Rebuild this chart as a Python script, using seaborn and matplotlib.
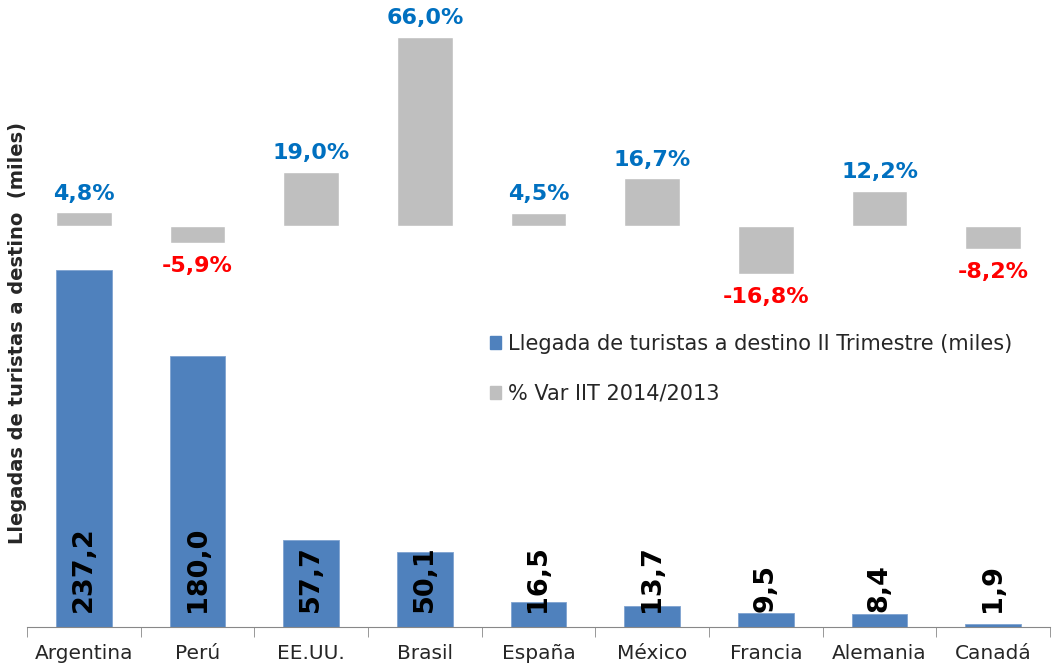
import matplotlib
matplotlib.use("Agg")
import matplotlib.pyplot as plt
import seaborn as sns
import pandas as pd
from matplotlib.patches import Patch

# data
paises = ["Argentina", "Perú", "EE.UU.", "Brasil", "España", "México", "Francia", "Alemania", "Canadá"]
llegadas = [237.2, 180.0, 57.7, 50.1, 16.5, 13.7, 9.5, 8.4, 1.9]
variacion = [4.8, -5.9, 19.0, 66.0, 4.5, 16.7, -16.8, 12.2, -8.2]

azul = "#4F81BD"
gris = "#BFBFBF"

df = pd.DataFrame({"Pais": paises, "Llegadas": llegadas, "Var": variacion})

sns.set_style("white")
plt.rcParams["font.family"] = ["DejaVu Sans"]

fig = plt.figure(figsize=(10.53, 6.71), dpi=100)
ax = fig.add_axes([27 / 1053, 44 / 671, 1023 / 1053, 617 / 671])
ax2 = ax.twinx()

sns.barplot(data=df, x="Pais", y="Llegadas", color=azul, width=0.49, ax=ax,
            saturation=1, edgecolor="#7FA3D0", linewidth=0.6)
sns.barplot(data=df, x="Pais", y="Var", color=gris, width=0.49, ax=ax2,
            saturation=1)

ax.set_ylim(0, 410)
ax2.set_ylim(-140.0, 75.4)
ax.set_xlim(-0.5, len(paises) - 0.5)

for a in (ax, ax2):
    for s in ["top", "right", "left"]:
        a.spines[s].set_visible(False)
    a.set_yticks([])
    a.set_ylabel("")
    a.set_xlabel("")
ax2.spines["bottom"].set_visible(False)
ax.spines["bottom"].set_color("#888888")

ax.set_xticks(range(len(paises)))
ax.set_xticklabels(paises, fontsize=14.5)
ax.tick_params(axis="x", which="major", length=0, pad=12)
ax.set_xticks([i - 0.5 for i in range(len(paises) + 1)], minor=True)
ax.tick_params(axis="x", which="minor", length=7, color="#888888", direction="out", bottom=True)

# value labels inside blue bars
for i, v in enumerate(llegadas):
    ax.text(i, 10, f"{v:.1f}".replace(".", ","), rotation=90, ha="center", va="bottom",
            fontsize=19.5, fontweight="bold", color="black")

# percentage labels on gray bars
for i, v in enumerate(variacion):
    txt = f"{v:.1f}%".replace(".", ",")
    if v >= 0:
        ax2.text(i, v + 3.0, txt, ha="center", va="bottom", fontsize=16,
                 fontweight="bold", color="#0070C0")
    else:
        ax2.text(i, v - 4.5, txt, ha="center", va="top", fontsize=16,
                 fontweight="bold", color="#FF0000")

handles = [Patch(color=azul, label="Llegada de turistas a destino II Trimestre (miles)"),
           Patch(color=gris, label="% Var IIT 2014/2013")]
fig.legend(handles=handles, loc="upper left", bbox_to_anchor=(471 / 1053, 1 - 315 / 671),
           frameon=False, fontsize=15, labelspacing=1.45, handlelength=0.55,
           handleheight=0.55, handletextpad=0.35)

fig.text(18 / 1053, 1 - 333 / 671, "Llegadas de turistas a destino  (miles)", rotation=90,
         ha="center", va="center", fontsize=14, fontweight="bold")

fig.savefig("out.png", dpi=100)
